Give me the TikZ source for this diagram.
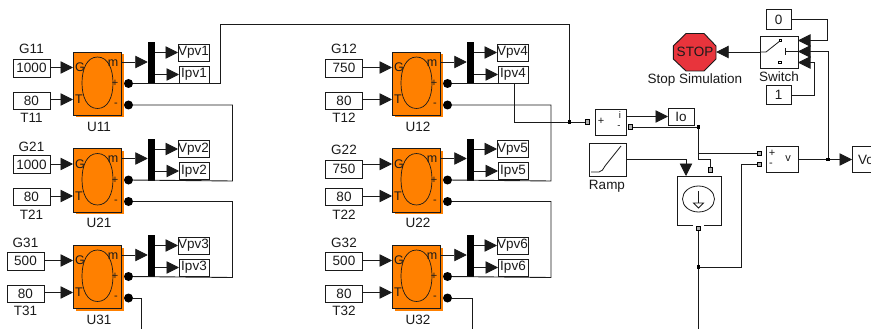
\documentclass[tikz,border=0pt]{standalone}
\usepackage{fontspec}
\setmainfont{Liberation Sans}
\usetikzlibrary{arrows.meta,calc,shapes.geometric}
\definecolor{pvorange}{HTML}{FF8000}
\definecolor{stopred}{HTML}{E8343C}
\definecolor{ink}{HTML}{1A1A1A}
\tikzset{
  x=1pt,y=-1pt,
  every node/.style={font=\fontsize{13.5}{15}\selectfont,text=ink,inner sep=0pt,outer sep=0pt},
  wire/.style={draw=ink,line width=0.9pt},
  sig/.style={wire,-{Triangle[length=12.5pt,width=12.5pt]}},
  valbox/.style={draw=ink,line width=0.9pt,fill=white,minimum width=37pt,minimum height=18pt},
  gotobox/.style={draw=ink,line width=0.9pt,fill=white,minimum width=31pt,minimum height=17pt},
  smallbox/.style={draw=ink,line width=0.9pt,fill=white},
  pvbody/.style={draw=ink,line width=0.9pt,fill=pvorange,minimum width=48.5pt,minimum height=63.5pt},
  muxbar/.style={fill=black,minimum width=7.5pt,minimum height=42pt},
  termdot/.style={circle,fill=black,minimum size=9pt},
  portsq/.style={draw=black,line width=1.1pt,fill=white!70!black,minimum size=4.2pt},
  tinysq/.style={draw=black,line width=0.7pt,fill=white,minimum size=2.6pt},
  joint/.style={fill=black,minimum size=3.4pt},
  pinlabel/.style={font=\fontsize{12.5}{14}\selectfont},
  signlabel/.style={font=\fontsize{11}{12}\selectfont},
  tinylabel/.style={font=\fontsize{9.5}{10}\selectfont},
}
% #1 suffix, #2 x, #3 y, #4 box x offset, #5 value, #6 G label y, #7 G box y, #8 goto number
\newcommand{\pvunit}[8]{
  \begin{scope}[shift={(#2,#3)}]
    \fill[pvorange] (2.5,2.5) rectangle (51,65.5);
    \node[pvbody,anchor=north west] (U#1) at (0,0) {};
    \draw[ink,line width=0.7pt] (24.5,5) .. controls (14,5) and (9,17) .. (9,31)
       .. controls (9,45) and (14,56.5) .. (24.5,56.5)
       .. controls (35,56.5) and (40,45) .. (40,31)
       .. controls (40,17) and (35,5) .. (24.5,5) -- cycle;
    \node[pinlabel] (U#1G) at (7,15.5) {G};
    \node[pinlabel] (U#1T) at (6,47.5) {T};
    \node[pinlabel] (U#1m) at (40,11) {m};
    \node[signlabel] (U#1a) at (42,31.5) {+};
    \node[signlabel] (U#1b) at (43,53) {-};
    \node[valbox,anchor=north west] (C#1) at (#4,#7) {#5};
    \node[valbox,anchor=north west,minimum height=17pt] (D#1) at (#4,40) {80};
    \node (GL#1) at (#4+18.5,#6) {G#1};
    \node (TL#1) at (#4+18.5,66) {T#1};
    \node (UL#1) at (26,74.5) {U#1};
    \node[muxbar] (M#1) at (78.5,11) {};
    \node[gotobox,anchor=north west] (V#1) at (105,-8) {Vpv#8};
    \node[gotobox,anchor=north west,minimum width=30pt] (I#1) at (106,14) {Ipv#8};
    \node[termdot] (P#1) at (55.5,31.5) {};
    \node[termdot] (N#1) at (55.5,53) {};
    \coordinate (G#1in) at (0,15.5);
    \coordinate (T#1in) at (0,47.5);
    \coordinate (M#1out) at (48.5,10);
    \draw[sig] (C#1.east |- G#1in) -- (G#1in);
    \draw[sig] (D#1.east |- T#1in) -- (T#1in);
    \draw[sig] (M#1out) -- (M#1.west |- M#1out);
    \draw[sig] (M#1.east |- V#1.west) -- (V#1.west);
    \draw[sig] (M#1.east |- I#1.west) -- (I#1.west);
  \end{scope}
}
\begin{document}
\begin{tikzpicture}
\useasboundingbox (0,0) rectangle (871,329);
\clip (0,0) rectangle (871,329);
\fill[white] (0,0) rectangle (871,329);

\pvunit{11}{73}{52}{-60}{1000}{-3}{7}{1}
\pvunit{21}{73}{148.5}{-60}{1000}{-2}{7}{2}
\pvunit{31}{73}{245}{-66}{500}{-2}{7}{3}
\pvunit{12}{392}{52}{-66.5}{750}{-3}{7}{4}
\pvunit{22}{392}{148.5}{-66.5}{750}{1}{11.5}{5}
\pvunit{32}{392}{245}{-66.5}{500}{-2}{7}{6}

% series strings
\coordinate (topL) at (220,24);
\coordinate (sumJ) at (569.5,122);
\node[portsq] (ip) at (587.5,122) {};
\draw[wire] (P11) -| (topL) -| (sumJ);
\draw[wire] (P12) -| (514.5,122) -- (ip);
\node[joint] (jI) at (sumJ) {};
\draw[wire] (N11) -| (232.5,181) -- (P21);
\draw[wire] (N21) -| (232.5,277.5) -- (P31);
\draw[wire] (N12) -| (551,181) -- (P22);
\draw[wire] (N22) -| (551,277.5) -- (P32);
\coordinate (d31) at (141,329);
\coordinate (d32) at (472,329);
\draw[wire] (N31) -| (d31);
\draw[wire] (N32) -| (d32);

% current measurement
\node[smallbox,minimum width=31pt,minimum height=26pt] (imeas) at (610.5,122) {};
\node[signlabel] (iplus) at (601,121.5) {+};
\node[tinylabel] (iout) at (620,115) {i};
\node[tinylabel] (iminus) at (619,127.5) {-};
\node[portsq] (im) at (630.5,127) {};
\node[smallbox,minimum width=26pt,minimum height=17pt] (Io) at (681,116.5) {Io};
\draw[sig] (imeas.east |- Io.west) -- (Io.west);

% ramp
\node[smallbox,minimum width=37pt,minimum height=33pt] (ramp) at (607.5,159.5) {};
\draw[ink,line width=0.8pt] (591,172) -- (599,172) .. controls (602,172) and (603,169) .. (605,166) -- (621,146);
\node (rampL) at (607,186) {Ramp};

% controlled current source
\coordinate (srcTL) at (677,176);
\coordinate (srcBR) at (721.5,225);
\node (src) at ($(srcTL)!0.5!(srcBR)$) [minimum width=44.5pt,minimum height=49pt] {};
\draw[ink,line width=1pt] (693,225) -- (677,225) -- (677,176) -- (721.5,176) -- (721.5,225) -- (704,225);
\node[draw=ink,ellipse,line width=0.8pt,minimum width=32pt,minimum height=26pt] (srcC) at (698.5,199) {};
\draw[ink,line width=0.8pt] (698.5,191) -- (698.5,203);
\draw[ink,line width=0.8pt] (693.5,203) -- (703.5,203) -- (698.5,208) -- cycle;
\node[portsq] (sT) at (710.5,170) {};
\node[portsq] (sB) at (698.5,228.5) {};
\coordinate (rampTurn) at (686,159.5);
\draw[sig] (ramp.east |- rampTurn) -- (rampTurn) -- (rampTurn |- src.north);

% voltage measurement
\node[smallbox,minimum width=32pt,minimum height=26pt] (vmeas) at (782,159.5) {};
\node[signlabel] (vplus) at (772,153) {+};
\node[signlabel] (vminus) at (771,165) {-};
\node[signlabel] (vout) at (788,158.5) {v};
\node[portsq] (vp) at (759.5,153.5) {};
\node[portsq] (vn) at (759.5,164.5) {};

\coordinate (n1) at (698.5,127);
\coordinate (n2) at (698.5,153.5);
\coordinate (n3) at (698.5,159);
\coordinate (n4) at (698.5,267);
\coordinate (n5) at (698.5,329);
\draw[wire] (im) -- (n1) -- (n2) -- (vp);
\draw[wire] (n2) -- (n3) -| (sT);
\node[joint] (jn1) at (n1) {};
\draw[wire] (sB) -- (n5);
\node[joint] (jn4) at (n4) {};
\draw[wire] (jn4) -| (741,164.5) -- (vn);

% Vo
\node[smallbox,minimum width=32pt,minimum height=26pt,anchor=west] (Vo) at (852,159.5) {};
\node[anchor=west] (VoT) at (858,159.5) {Vo};
\draw[sig] (vmeas.east) -- (Vo.west);

% switch
\node[smallbox,minimum width=38pt,minimum height=32pt] (sw) at (779,52) {};
\node (swL) at (779,77) {Switch};
\node[smallbox,minimum width=25pt,minimum height=19.5pt] (c0) at (778.5,19.5) {0};
\node[smallbox,minimum width=25pt,minimum height=19.5pt] (c1) at (778.5,95) {1};
\node[tinysq] (ct) at (780.5,40.5) {};
\node[tinysq] (cb) at (780,62.5) {};
\coordinate (swIn1) at (798,40.5);
\coordinate (swIn2) at (798,51.5);
\coordinate (swIn3) at (798,62.5);
\coordinate (swL1) at (760,52);
\coordinate (swL2) at (766,52);
\draw[ink,line width=0.8pt] (swL1) -- (swL2) -- (ct);
\draw[ink,line width=0.8pt] (785.5,48) -- (785.5,55.5);
\draw[ink,line width=0.8pt] (785.5,51.5) -- (swIn2);
\draw[sig] (c0.east) -| (827,40.5) -- (swIn1);
\draw[sig] (c1.east) -| (814.5,62.5) -- (swIn3);
\node[joint] (jv) at (828,159.5) {};
\draw[sig] (jv) |- (swIn2);

% stop
\fill[stopred,draw=ink,line width=0.9pt] (686,33.5) -- (704,33.5) -- (716,46) -- (716,59) -- (704,71) -- (686,71) -- (673.3,59) -- (673.3,46) -- cycle;
\node[minimum width=43pt,minimum height=37pt] (stop) at (694.7,52) {};
\node[font=\fontsize{13.5}{15}\selectfont] (stopT) at (695,51.5) {STOP};
\node (stopL) at (695,80.5) {Stop Simulation};
\draw[sig] (sw.west) -- (stop.east);
\end{tikzpicture}
\end{document}
